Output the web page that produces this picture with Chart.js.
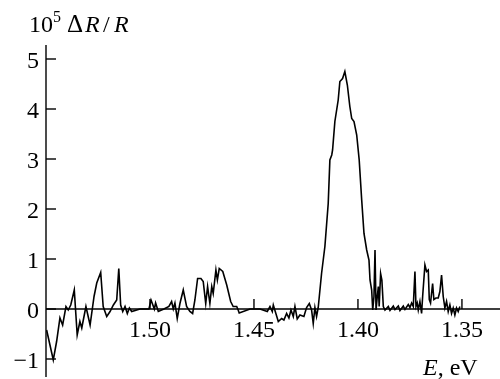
<!DOCTYPE html>
<html>
<head>
<meta charset="utf-8">
<script src="https://cdn.jsdelivr.net/npm/chart.js@4/dist/chart.umd.min.js"></script>
<style>
  body { margin: 0; background: #fff; }
  #wrap { width: 500px; height: 379px; position: relative; }
</style>
</head>
<body>
<div id="wrap"><canvas id="spectrum"></canvas></div>
<script>
// photon energy, eV (axis runs right to left)
const energy = [
  1.5497, 1.5465, 1.5449, 1.5433, 1.5420, 1.5404, 1.5393, 1.5381, 1.5364, 1.5350,
  1.5337, 1.5328, 1.5308, 1.5288, 1.5269, 1.5256, 1.5237, 1.5225, 1.5208, 1.5192,
  1.5176, 1.5160, 1.5150, 1.5141, 1.5131, 1.5120, 1.5109, 1.5099, 1.5088, 1.5048,
  1.5005, 1.4995, 1.4979, 1.4973, 1.4960, 1.4933, 1.4909, 1.4896, 1.4888, 1.4880,
  1.4869, 1.4856, 1.4840, 1.4824, 1.4808, 1.4795, 1.4784, 1.4771, 1.4755, 1.4744,
  1.4732, 1.4723, 1.4712, 1.4703, 1.4696, 1.4683, 1.4676, 1.4667, 1.4650, 1.4631,
  1.4612, 1.4600, 1.4583, 1.4576, 1.4571, 1.4519, 1.4471, 1.4436, 1.4423, 1.4412,
  1.4407, 1.4383, 1.4367, 1.4356, 1.4343, 1.4332, 1.4322, 1.4311, 1.4303, 1.4292,
  1.4279, 1.4260, 1.4247, 1.4234, 1.4223, 1.4215, 1.4207, 1.4199, 1.4191, 1.4175,
  1.4159, 1.4143, 1.4135, 1.4126, 1.4122, 1.4111, 1.4095, 1.4087, 1.4074, 1.4063,
  1.4051, 1.4039, 1.4030, 1.4019, 1.4006, 1.3994, 1.3982, 1.3971, 1.3958, 1.3947,
  1.3942, 1.3934, 1.3929, 1.3923, 1.3918, 1.3913, 1.3907, 1.3902, 1.3898, 1.3891,
  1.3885, 1.3878, 1.3870, 1.3854, 1.3846, 1.3830, 1.3822, 1.3806, 1.3798, 1.3782,
  1.3774, 1.3758, 1.3750, 1.3742, 1.3734, 1.3726, 1.3721, 1.3715, 1.3710, 1.3702,
  1.3694, 1.3689, 1.3678, 1.3670, 1.3662, 1.3657, 1.3651, 1.3641, 1.3635, 1.3625,
  1.3614, 1.3606, 1.3598, 1.3590, 1.3582, 1.3574, 1.3566, 1.3558, 1.3550, 1.3542,
  1.3534, 1.3526, 1.3518, 1.3510
];

// 10^5 dR/R
const signal = [
  -0.42, -1.02, -0.65, -0.18, -0.32, 0.05, -0.02, 0.08, 0.38, -0.52,
  -0.25, -0.38, 0.05, -0.32, 0.25, 0.52, 0.73, 0.05, -0.15, -0.05,
  0.08, 0.18, 0.81, 0.08, -0.05, 0.05, -0.09, 0.02, -0.05, 0.0,
  0.0, 0.18, 0.0, 0.12, -0.05, 0.0, 0.05, 0.15, 0.0, 0.12,
  -0.19, 0.11, 0.38, 0.05, -0.05, -0.09, 0.18, 0.61, 0.61, 0.55,
  0.11, 0.45, 0.11, 0.45, 0.31, 0.78, 0.58, 0.81, 0.75, 0.48,
  0.15, 0.05, 0.05, -0.02, -0.08, 0.0, 0.0, -0.05, 0.05, -0.05,
  0.08, -0.25, -0.19, -0.22, -0.09, -0.18, -0.02, -0.15, 0.05, -0.2,
  -0.12, -0.15, 0.03, 0.11, -0.02, -0.29, 0.03, -0.15, 0.03, 0.71,
  1.25, 2.11, 2.98, 3.08, 3.18, 3.75, 4.18, 4.55, 4.61, 4.75,
  4.48, 4.05, 3.81, 3.75, 3.48, 2.98, 2.18, 1.51, 1.18, 0.98,
  0.58, 0.38, -0.02, 0.25, 1.18, -0.02, 0.25, 0.45, 0.05, 0.71,
  0.58, 0.05, -0.02, 0.05, -0.03, 0.06, -0.01, 0.06, -0.03, 0.06,
  -0.01, 0.09, 0.03, 0.12, 0.05, 0.75, 0.05, 0.12, -0.02, 0.15,
  -0.09, 0.25, 0.88, 0.75, 0.78, 0.19, 0.12, 0.51, 0.19, 0.22,
  0.22, 0.35, 0.68, 0.25, 0.02, 0.15, -0.05, 0.08, -0.09, 0.02,
  -0.12, 0.02, -0.05, 0.05
];

const xTicks = [1.50, 1.45, 1.40, 1.35];
const yTicks = [-1, 0, 1, 2, 3, 4, 5];

const SERIF = '"Liberation Serif", "DejaVu Serif", serif';

// axes drawn by hand: x axis sits on the zero line, ticks point inward
const axesPlugin = {
  id: 'axes',
  afterDraw(chart) {
    const ctx = chart.ctx;
    const xs = chart.scales.x;
    const ys = chart.scales.y;
    const area = chart.chartArea;
    const y0 = ys.getPixelForValue(0);

    ctx.save();
    ctx.strokeStyle = '#000';
    ctx.fillStyle = '#000';
    ctx.lineWidth = 1.4;

    ctx.beginPath();
    ctx.moveTo(area.left, area.top);
    ctx.lineTo(area.left, area.bottom);
    ctx.moveTo(area.left, y0);
    ctx.lineTo(chart.width, y0);
    ctx.stroke();

    ctx.font = '24px ' + SERIF;

    // y ticks
    ctx.textAlign = 'right';
    ctx.textBaseline = 'alphabetic';
    yTicks.forEach(v => {
      const py = ys.getPixelForValue(v);
      ctx.beginPath();
      ctx.moveTo(area.left, py);
      ctx.lineTo(area.left + 10, py);
      ctx.stroke();
      const txt = v < 0 ? '\u2212' + Math.abs(v) : String(v);
      ctx.fillText(txt, area.left - 7, py + 9);
    });

    // x ticks
    ctx.textAlign = 'center';
    xTicks.forEach(v => {
      const px = xs.getPixelForValue(v);
      ctx.beginPath();
      ctx.moveTo(px, y0);
      ctx.lineTo(px, y0 - 10);
      ctx.stroke();
      ctx.fillText(v.toFixed(2), px, y0 + 28);
    });

    // y title: 10^5 ΔR/R
    ctx.textAlign = 'left';
    const ty = 32;
    const parts = [
      ['10', '24px ' + SERIF, 29, 0],
      ['5', '16px ' + SERIF, 53, -10],
      ['\u0394', '25px ' + SERIF, 67, 0],
      ['R', 'italic 24px ' + SERIF, 85, 0],
      ['/', '24px ' + SERIF, 103, 0],
      ['R', 'italic 24px ' + SERIF, 114, 0]
    ];
    parts.forEach(([s, f, x, dy]) => {
      ctx.font = f;
      ctx.fillText(s, x, ty + dy);
    });

    // x title: E, eV
    let tx = 423;
    const ty2 = 375;
    ctx.font = 'italic 24px ' + SERIF;
    ctx.fillText('E', tx, ty2);
    tx += ctx.measureText('E').width;
    ctx.font = '24px ' + SERIF;
    ctx.fillText(', eV', tx, ty2);

    ctx.restore();
  }
};

document.addEventListener('DOMContentLoaded', () => {
  const points = energy.map((e, i) => ({ x: e, y: signal[i] }));

  new Chart(document.getElementById('spectrum'), {
    type: 'line',
    data: {
      datasets: [
        {
          data: points,
          borderColor: '#000',
          borderWidth: 1.6,
          pointRadius: 0,
          tension: 0,
          fill: false
        }
      ]
    },
    options: {
      responsive: true,
      maintainAspectRatio: false,
      animation: false,
      layout: { padding: { left: 46, right: 0, top: 45, bottom: 2 } },
      plugins: { legend: { display: false }, tooltip: { enabled: false } },
      scales: {
        x: { type: 'linear', reverse: true, min: 1.3317, max: 1.55, display: false },
        y: { min: -1.36, max: 5.28, display: false }
      }
    },
    plugins: [axesPlugin]
  });
});
</script>
</body>
</html>
